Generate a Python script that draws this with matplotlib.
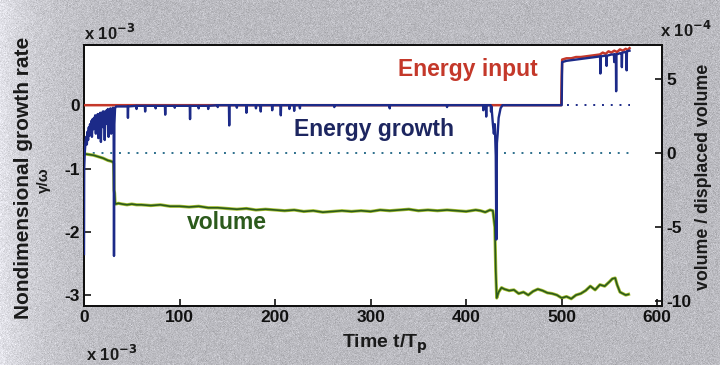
import numpy as np
import matplotlib
matplotlib.use("Agg")
import matplotlib.pyplot as plt

# ---- data -------------------------------------------------------------
# energy input (units of 1e-3)
input_t = [0, 499.5, 500.0, 500.5, 505, 510, 515, 520, 525, 530, 535, 540,
           543, 546, 549, 552, 555, 558, 561, 564, 567, 569, 571]
input_v = [0, 0, 0.45, 0.72, 0.74, 0.74, 0.76, 0.76, 0.77, 0.78, 0.79, 0.80,
           0.83, 0.81, 0.85, 0.83, 0.86, 0.84, 0.88, 0.86, 0.89, 0.87, 0.90]

# energy growth rate (units of 1e-3)
growth_t = [0, 0.2, 0.8, 1.5, 2.2, 3, 3.6, 4.3, 5, 5.6, 6.3, 7, 7.6, 8.3, 9,
            9.7, 10.4, 11, 11.7, 12.4, 13, 13.7, 14.4, 15, 15.7, 16.4, 17,
            17.7, 18.4, 19, 19.7, 20.4, 21, 21.7, 22.4, 23, 23.7, 24.4, 25,
            25.7, 26.4, 27, 27.7, 28.4, 29, 29.7, 30.4, 31, 31.4, 31.8, 32.5,
            33.5, 35, 40, 45.7, 46, 46.3, 54.7, 55, 55.3, 63.7, 64, 64.3,
            74.7, 75, 75.3, 84.7, 85, 85.3, 94.7, 95, 95.3, 110.7, 111, 111.3,
            119.7, 120, 120.3, 129.7, 130, 130.3, 139.7, 140, 140.3, 151.7,
            152, 152.3, 159.7, 160, 160.3, 169.7, 170, 170.3, 179.7, 180,
            180.3, 184.7, 185, 185.3, 196.7, 197, 197.3, 205.7, 206, 206.3,
            214.7, 215, 215.3, 219.7, 220, 220.3, 225.7, 226, 226.3, 261.7,
            262, 262.3, 319.7, 320, 320.3, 379.7, 380, 380.3, 417.7, 418,
            418.3, 420.7, 421, 421.3, 425.7, 426, 426.5, 428, 429, 430, 431,
            431.6, 432.2, 433, 434, 436, 438, 500, 500.5, 505, 510, 515, 520,
            525, 530, 535, 540.2, 540.5, 540.8, 545, 546.7, 547, 547.3, 552,
            554.7, 555, 555.3, 556.7, 557, 557.3, 561, 562.7, 563, 563.3,
            567.7, 568, 568.3, 571]
growth_v = [-2.35, -1.0, -0.75, -0.6, -0.5, -0.62, -0.42, -0.55, -0.35, -0.48,
            -0.3, -0.44, -0.25, -0.5, -0.22, -0.38, -0.2, -0.3, -0.16, -0.45,
            -0.18, -0.28, -0.14, -0.52, -0.15, -0.24, -0.12, -0.58, -0.14,
            -0.2, -0.1, -0.35, -0.1, -0.55, -0.12, -0.18, -0.08, -0.3, -0.06,
            -0.5, -0.08, -0.12, -0.05, -0.45, -0.06, -0.1, -0.04, -0.2, -2.38,
            -0.3, -0.05, -0.02, -0.02, -0.02, -0.02, -0.2, -0.02, -0.01, -0.06,
            -0.01, -0.01, -0.1, -0.01, -0.01, -0.05, -0.01, -0.01, -0.15,
            -0.01, -0.01, -0.04, -0.01, -0.01, -0.22, -0.01, -0.01, -0.05,
            -0.01, -0.01, -0.06, -0.01, 0, -0.03, 0, 0, -0.32, 0, 0, -0.04, 0,
            0, -0.12, 0, 0, -0.05, 0, 0, -0.1, 0, 0, -0.08, 0, 0, -0.16, 0, 0,
            -0.06, 0, 0, -0.09, 0, 0, -0.05, 0, 0, -0.03, 0, 0, -0.05, 0, 0,
            -0.03, 0, 0, -0.08, 0, 0, -0.18, 0, 0, -0.1, -0.02, -0.3, -0.45,
            -0.3, -0.8, -2.12, -0.6, -0.45, -0.2, -0.05, 0, 0, 0.68, 0.70,
            0.71, 0.72, 0.73, 0.74, 0.75, 0.76, 0.77, 0.5, 0.77, 0.78, 0.78,
            0.62, 0.78, 0.80, 0.80, 0.68, 0.80, 0.80, 0.22, 0.80, 0.82, 0.82,
            0.60, 0.83, 0.84, 0.55, 0.85, 0.86]

# volume / displaced volume (units of 1e-4)
volume_t = [0, 5, 10, 15, 20, 25, 28, 30, 31, 31.5, 32, 32.5, 33, 36, 40, 45,
            50, 55, 60, 70, 80, 90, 100, 110, 120, 130, 140, 150, 160, 170,
            180, 190, 200, 210, 220, 230, 240, 250, 260, 270, 280, 290, 300,
            310, 320, 330, 340, 350, 360, 370, 380, 390, 400, 410, 415, 420,
            425, 428, 430, 431, 432, 434, 437, 440, 445, 450, 455, 460, 465,
            470, 475, 480, 485, 490, 495, 500, 505, 510, 515, 520, 525, 530,
            535, 540, 545, 550, 553, 556, 558, 561, 564, 567, 570]
volume_v = [-0.05, -0.1, -0.15, -0.25, -0.35, -0.5, -0.55, -0.6, -0.7, -2.5,
            -2.7, -3.3, -3.45, -3.4, -3.45, -3.5, -3.45, -3.5, -3.5, -3.55,
            -3.5, -3.6, -3.6, -3.65, -3.6, -3.7, -3.7, -3.75, -3.8, -3.75,
            -3.85, -3.8, -3.85, -3.9, -3.85, -3.95, -3.9, -4.0, -3.95, -3.9,
            -3.95, -3.9, -3.95, -3.85, -3.9, -3.85, -3.8, -3.9, -3.85, -3.9,
            -3.85, -3.9, -3.95, -3.85, -3.9, -4.0, -3.85, -3.9, -5.0, -8.0,
            -9.8, -9.4, -9.1, -9.2, -9.3, -9.25, -9.5, -9.4, -9.6, -9.35, -9.2,
            -9.3, -9.45, -9.5, -9.6, -9.8, -9.7, -9.85, -9.6, -9.5, -9.3, -9.0,
            -9.25, -8.9, -9.0, -8.7, -8.5, -8.45, -8.9, -9.4, -9.5, -9.6, -9.55]

x_ticks = [0, 100, 200, 300, 400, 500, 600]
left_ticks = [0, -1, -2, -3]
right_ticks = [5, 0, -5, -10]

# ---- styling ----------------------------------------------------------
RED = "#c4382a"
BLUE = "#1c2a88"
GREEN = "#2c5a1c"
GREEN_EDGE = "#a9c234"
DOT = "#2d6f8c"
INK = "#1a1a1a"
FONT = ["Liberation Sans", "DejaVu Sans"]

fig = plt.figure(figsize=(7.2, 3.65), dpi=100)

# grey paper background, lighter towards the left margin
H, W = 365, 720
xs = np.arange(W) / W
shade = 0.74 + 0.16 * np.exp(-xs / 0.06)
rng = np.random.default_rng(3)
grain = rng.normal(0, 0.035, (H, W))
bg = np.clip(shade[None, :] + grain, 0, 1)
rgb = np.stack([bg * 0.99, bg * 0.99, bg * 1.02], axis=-1).clip(0, 1)
fig.figimage(rgb, xo=0, yo=0, zorder=-10)
fig.patch.set_alpha(0)

ax = fig.add_axes([84 / 720, 1 - 306 / 365, (662 - 84) / 720, (306 - 45) / 365])
ax2 = ax.twinx()

ax.set_xlim(0, 605)
ax.set_ylim(-3.17, 0.95)
ax2.set_ylim(-10.34, 7.3)

# zero lines of both scales
ax.plot([506, 572], [0, 0], ls=(0, (1, 3.5)), color=BLUE, lw=1.4, zorder=2)
ax2.plot([0, 572], [0, 0], ls=(0, (1, 3.5)), color=DOT, lw=1.4, zorder=2)

ax2.plot(volume_t, volume_v, color=GREEN_EDGE, lw=2.3, zorder=3)
ax2.plot(volume_t, volume_v, color=GREEN, lw=1.2, zorder=4)

ax.set_zorder(ax2.get_zorder() + 1)
ax.patch.set_visible(False)
ax2.patch.set_visible(True)
ax2.patch.set_facecolor("white")

ax.plot(input_t, input_v, color=RED, lw=1.8, zorder=3)
ax.plot(growth_t, growth_v, color=BLUE, lw=1.7, zorder=4)

for a in (ax, ax2):
    for s in a.spines.values():
        s.set_linewidth(1.4)
        s.set_color("#111111")
    a.tick_params(direction="in", length=5, width=1.2, colors="#111111",
                  labelsize=12.5, pad=3)

ax.set_xticks(x_ticks)
ax.set_xticklabels([str(v) for v in x_ticks], family=FONT, weight="bold")
ax.set_yticks(left_ticks)
ax.set_yticklabels([str(v) for v in left_ticks], family=FONT, weight="bold")
ax2.set_yticks(right_ticks)
ax2.set_yticklabels([str(v) for v in right_ticks], family=FONT, weight="bold")

# series labels
ax.text(402, 0.56, "Energy input", color=RED, fontsize=16.5, weight="bold",
        family=FONT, ha="center", va="center")
ax.text(304, -0.385, "Energy growth", color="#1d2660", fontsize=16.5,
        weight="bold", family=FONT, ha="center", va="center")
ax.text(150, -1.85, "volume", color=GREEN, fontsize=16.5, weight="bold",
        family=FONT, ha="center", va="center")

# axis titles
fig.text(24 / 720, 1 - 178 / 365, "Nondimensional growth rate", rotation=90,
         fontsize=15, weight="bold", family=FONT, ha="center", va="center",
         color=INK)
fig.text(44 / 720, 1 - 180 / 365, "γ/ω", rotation=90, fontsize=11,
         weight="bold", family=FONT, ha="center", va="center", color=INK)
fig.text(703 / 720, 1 - 177 / 365, "volume / displaced volume", rotation=90,
         fontsize=12.8, weight="bold", family=FONT, ha="center",
         va="center", color=INK)
fig.text(385 / 720, 1 - 344 / 365, r"Time t/T$_\mathbf{p}$", fontsize=14,
         weight="bold", family=FONT, ha="center", va="center", color=INK)

# scale multipliers
fig.text(84 / 720, 1 - 33 / 365, r"x 10$^{\mathbf{-3}}$", fontsize=12,
         weight="bold", family=FONT, ha="left", va="center", color=INK)
fig.text(660 / 720, 1 - 30 / 365, r"x 10$^{\mathbf{-4}}$", fontsize=12,
         weight="bold", family=FONT, ha="left", va="center", color=INK)
fig.text(86 / 720, 1 / 365, r"x 10$^{\mathbf{-3}}$", fontsize=12,
         weight="bold", family=FONT, ha="left", va="bottom", color=INK)

fig.savefig("out.png", dpi=100)
